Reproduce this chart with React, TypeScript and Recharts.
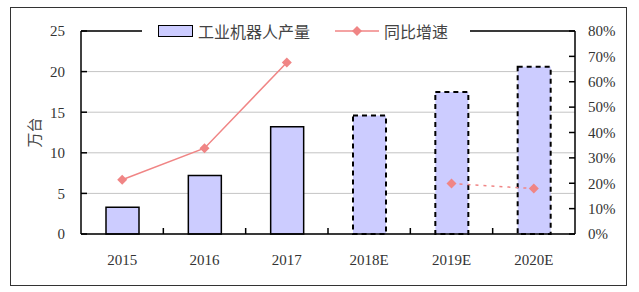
import React from 'react';
import {
  ComposedChart, Bar, Line, XAxis, YAxis, CartesianGrid, Cell, ReferenceLine, Legend,
} from 'recharts';

const YEARS = ['2015', '2016', '2017', '2018E', '2019E', '2020E'];
const OUTPUT = [3.3, 7.2, 13.2, 14.6, 17.5, 20.6];
const GROWTH_ACTUAL = [21.4, 33.8, 67.6, null, null, null];
const GROWTH_FORECAST = [null, null, null, null, 19.9, 17.9];
const FORECAST_FROM = 3;

const LEFT_TICKS = [0, 5, 10, 15, 20, 25];
const RIGHT_TICKS = [0, 10, 20, 30, 40, 50, 60, 70, 80];

const BAR_FILL = '#CCCCFF';
const PINK = '#F08585';
const SERIF = '"Liberation Serif", "DejaVu Serif", serif';
const CJK = '"Noto Sans CJK SC", sans-serif';

const W = 639;
const H = 292;
const LEFT_W = 81;
const RIGHT_W = 64;
const PLOT_W = W - LEFT_W - RIGHT_W;

const data = YEARS.map((year, i) => ({
  year,
  output: OUTPUT[i],
  actual: GROWTH_ACTUAL[i],
  forecast: GROWTH_FORECAST[i],
}));

const Diamond = (p: any) => {
  const { cx, cy, key } = p;
  if (cx == null || cy == null) return <g key={key} />;
  const r = 5;
  return (
    <polygon key={key} points={`${cx},${cy - r} ${cx + r},${cy} ${cx},${cy + r} ${cx - r},${cy}`} fill={PINK} stroke="none" />
  );
};

// category labels in the middle, small tick marks on the boundaries between them
const XTick = (p: any) => {
  const { x, y, payload, index } = p;
  const half = PLOT_W / YEARS.length / 2;
  const axisY = y;
  return (
    <g>
      {index < YEARS.length - 1 && (
        <line x1={x + half} x2={x + half} y1={axisY} y2={axisY - 6} stroke="#000" strokeWidth={1.5} />
      )}
      <text x={x} y={axisY + 31} textAnchor="middle" fontFamily={SERIF} fontSize={15} fill="#333">
        {payload.value}
      </text>
    </g>
  );
};

const LegendBox = () => (
  <div style={{ display: 'flex', alignItems: 'center', height: 20, background: '#fff', fontFamily: CJK, fontSize: 16, color: '#444' }}>
    <span style={{ boxSizing: 'border-box', width: 35, height: 12, background: BAR_FILL, border: '1.5px solid #000', marginLeft: 16 }} />
    <span style={{ marginLeft: 5 }}>工业机器人产量</span>
    <svg width={44} height={12} style={{ marginLeft: 25 }}>
      <line x1={0} x2={44} y1={6} y2={6} stroke={PINK} strokeWidth={1.5} />
      <polygon points="22,1 27,6 22,11 17,6" fill={PINK} />
    </svg>
    <span style={{ marginLeft: 5 }}>同比增速</span>
  </div>
);

export default function App() {
  return (
    <div style={{ position: 'absolute', left: 0, top: 0, width: W, height: H, background: '#fff' }}>
      <div style={{ position: 'absolute', left: 10, top: 7, width: 617, height: 279, boxSizing: 'border-box', border: '1.5px solid #333' }} />
      <ComposedChart width={W} height={H} data={data} margin={{ top: 31, right: 0, bottom: 28, left: 0 }}>
        <CartesianGrid yAxisId="left" vertical={false} stroke="#C4C4C4" />
        <XAxis dataKey="year" height={30} interval={0} axisLine={{ stroke: '#000', strokeWidth: 1.5 }}
          tickLine={false} tickSize={0} tickMargin={0} tick={<XTick />} />
        <YAxis yAxisId="left" width={LEFT_W} domain={[0, 25]} ticks={LEFT_TICKS} interval={0}
          axisLine={{ stroke: '#000', strokeWidth: 1.5 }} tickLine={{ stroke: '#000', strokeWidth: 1.5 }}
          tickSize={-6} tickMargin={22}
          tick={{ fontFamily: SERIF, fontSize: 15, fill: '#333' }}
          label={{ value: '万台', angle: -90, position: 'center', dx: -6, style: { fontFamily: CJK, fontSize: 15, fill: '#444' } }} />
        <YAxis yAxisId="right" orientation="right" width={RIGHT_W} domain={[0, 80]} ticks={RIGHT_TICKS} interval={0}
          axisLine={{ stroke: '#000', strokeWidth: 1.5 }} tickLine={{ stroke: '#000', strokeWidth: 1.5 }}
          tickSize={-6} tickMargin={19} tickFormatter={(v: number) => `${v}%`}
          tick={{ fontFamily: SERIF, fontSize: 15, fill: '#333' }} />
        <ReferenceLine yAxisId="left" y={25} stroke="#000" strokeWidth={1.5} />
        <Legend layout="horizontal" verticalAlign="middle" align="center" content={<LegendBox />}
          wrapperStyle={{ top: 21, left: 142, width: 328, height: 20 }} />
        <Bar yAxisId="left" dataKey="output" name="工业机器人产量" barSize={33} fill={BAR_FILL} isAnimationActive={false}>
          {data.map((_, i) => (
            <Cell key={i} fill={BAR_FILL} stroke="#000"
              strokeWidth={i >= FORECAST_FROM ? 2 : 1.5}
              strokeDasharray={i >= FORECAST_FROM ? '5 4' : undefined} />
          ))}
        </Bar>
        <Line yAxisId="right" dataKey="actual" name="同比增速" stroke={PINK} strokeWidth={1.5}
          dot={<Diamond />} activeDot={false} isAnimationActive={false} />
        <Line yAxisId="right" dataKey="forecast" name="同比增速E" stroke={PINK} strokeWidth={1.5} strokeDasharray="3 5"
          dot={<Diamond />} activeDot={false} legendType="none" isAnimationActive={false} />
      </ComposedChart>
    </div>
  );
}
